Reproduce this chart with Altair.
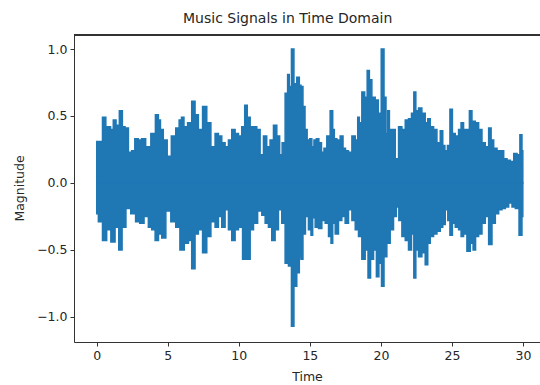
import altair as alt
import pandas as pd

# Upper envelope of the waveform (time in s, magnitude)
upper_t = [0.00, 0.23, 0.58, 0.70, 0.89, 1.06, 1.27, 1.45, 1.73, 1.88, 2.11, 2.35, 2.56, 2.80, 3.05, 3.26,
           3.63, 3.99, 4.27, 4.41, 4.56, 4.81, 5.11, 5.39, 5.73, 5.87, 6.06, 6.22, 6.57, 6.80, 7.04, 7.27,
           7.63, 7.86, 8.21, 8.45, 8.68, 8.92, 9.15, 9.39, 9.62, 9.86, 10.09, 10.32, 10.51, 10.68, 10.92,
           11.15, 11.38, 11.62, 11.85, 12.08, 12.32, 12.56, 12.79, 12.96, 13.14, 13.38, 13.49, 13.61, 13.80,
           13.96, 14.20, 14.32, 14.43, 14.60, 14.72, 14.90, 15.07, 15.21, 15.37, 15.54, 15.73, 15.91, 16.08,
           16.31, 16.55, 16.67, 16.78, 17.02, 17.25, 17.42, 17.60, 17.84, 18.08, 18.31, 18.43, 18.54, 18.78,
           18.94, 19.13, 19.25, 19.48, 19.72, 19.91, 20.14, 20.30, 20.42, 20.54, 20.66, 20.89, 21.13, 21.36,
           21.60, 21.83, 22.06, 22.25, 22.39, 22.53, 22.77, 23.00, 23.24, 23.36, 23.59, 23.83, 24.06, 24.30,
           24.41, 24.60, 24.77, 24.95, 25.12, 25.35, 25.59, 25.70, 25.94, 26.17, 26.29, 26.53, 26.76, 27.00,
           27.23, 27.47, 27.70, 27.82, 28.06, 28.29, 28.53, 28.76, 29.00, 29.23, 29.47, 29.70, 29.87, 29.99]
upper_v = [0.31, 0.31, 0.49, 0.42, 0.42, 0.40, 0.47, 0.43, 0.54, 0.42, 0.41, 0.23, 0.24, 0.33, 0.32, 0.33,
           0.27, 0.37, 0.51, 0.47, 0.40, 0.32, 0.20, 0.35, 0.41, 0.47, 0.49, 0.42, 0.45, 0.61, 0.51, 0.40,
           0.57, 0.45, 0.27, 0.37, 0.35, 0.30, 0.27, 0.32, 0.40, 0.37, 0.35, 0.42, 0.58, 0.49, 0.42,
           0.42, 0.40, 0.21, 0.35, 0.27, 0.32, 0.43, 0.35, 0.21, 0.30, 0.67, 0.81, 0.72, 1.00,
           0.74, 0.79, 0.73, 0.72, 0.57, 0.40, 0.32, 0.33, 0.27, 0.32, 0.33, 0.30, 0.23, 0.26,
           0.35, 0.54, 0.40, 0.33, 0.32, 0.35, 0.26, 0.24, 0.23, 0.35, 0.32, 0.49, 0.45, 0.68,
           0.64, 0.84, 0.77, 0.64, 0.62, 0.52, 1.00, 0.64, 0.37, 0.54, 0.40, 0.40, 0.18, 0.42,
           0.40, 0.47, 0.48, 0.52, 0.68, 0.54, 0.56, 0.52, 0.45, 0.48, 0.42, 0.40, 0.30, 0.39,
           0.28, 0.24, 0.28, 0.55, 0.37, 0.35, 0.40, 0.45, 0.40, 0.40, 0.54, 0.46, 0.45, 0.40,
           0.30, 0.27, 0.41, 0.32, 0.26, 0.24, 0.24, 0.18, 0.17, 0.16, 0.22, 0.21, 0.36, 0.24]

# Lower envelope of the waveform
lower_t = [0.00, 0.23, 0.58, 0.82, 1.17, 1.41, 1.69, 1.88, 2.23, 2.56, 2.91, 3.14, 3.52, 3.75, 3.99, 4.23,
           4.46, 4.69, 5.04, 5.39, 5.73, 5.98, 6.34, 6.57, 6.80, 7.04, 7.27, 7.63, 7.86, 8.21, 8.45, 8.68,
           8.92, 9.15, 9.39, 9.62, 9.86, 10.09, 10.44, 10.68, 10.92, 11.15, 11.50, 11.74, 11.97, 12.20,
           12.44, 12.67, 12.91, 13.14, 13.38, 13.61, 13.80, 13.96, 14.20, 14.32, 14.43, 14.60, 14.78, 15.02,
           15.14, 15.26, 15.49, 15.73, 15.96, 16.20, 16.43, 16.55, 16.67, 16.90, 17.13, 17.37, 17.60, 17.84,
           18.08, 18.31, 18.54, 18.78, 19.01, 19.18, 19.37, 19.60, 19.77, 19.95, 20.14, 20.30, 20.54, 20.77,
           21.01, 21.17, 21.36, 21.60, 21.83, 22.06, 22.25, 22.39, 22.53, 22.77, 23.00, 23.24, 23.36, 23.59,
           23.83, 24.06, 24.30, 24.41, 24.65, 24.77, 24.95, 25.12, 25.35, 25.59, 25.70, 25.94, 26.17, 26.41,
           26.57, 26.76, 27.00, 27.23, 27.47, 27.70, 27.94, 28.17, 28.41, 28.64, 28.88, 29.11, 29.35, 29.58,
           29.87, 29.99]
lower_v = [-0.23, -0.29, -0.43, -0.35, -0.44, -0.33, -0.50, -0.33, -0.19, -0.23, -0.29, -0.30, -0.25, -0.33, -0.35, -0.43,
           -0.38, -0.41, -0.21, -0.29, -0.33, -0.50, -0.45, -0.43, -0.64, -0.38, -0.35, -0.52, -0.40, -0.29, -0.33, -0.25,
           -0.33, -0.20, -0.35, -0.43, -0.35, -0.33, -0.57, -0.57, -0.35, -0.30, -0.21, -0.24, -0.30, -0.33,
           -0.43, -0.35, -0.20, -0.30, -0.60, -0.62, -1.07, -0.77, -0.67, -0.55, -0.57, -0.38, -0.25, -0.35,
           -0.39, -0.26, -0.33, -0.34, -0.28, -0.30, -0.40, -0.45, -0.30, -0.38, -0.28, -0.25, -0.30, -0.20,
           -0.28, -0.35, -0.40, -0.57, -0.50, -0.71, -0.57, -0.50, -0.70, -0.60, -0.77, -0.55, -0.45, -0.35,
           -0.25, -0.18, -0.28, -0.40, -0.43, -0.50, -0.38, -0.71, -0.50, -0.55, -0.52, -0.61, -0.45, -0.40,
           -0.38, -0.36, -0.33, -0.31, -0.20, -0.28, -0.39, -0.30, -0.33, -0.35, -0.40, -0.38, -0.51, -0.45,
           -0.50, -0.40, -0.38, -0.30, -0.25, -0.46, -0.30, -0.23, -0.20, -0.19, -0.18, -0.15, -0.18, -0.19,
           -0.39, -0.25]

x_ticks = [0, 5, 10, 15, 20, 25, 30]
y_ticks = [-1.0, -0.5, 0.0, 0.5, 1.0]

up = pd.DataFrame({"t": upper_t, "v": upper_v, "z": 0.0})
lo = pd.DataFrame({"t": lower_t, "v": lower_v, "z": 0.0})

FONT = "DejaVu Sans"
COLOR = "#1f77b4"
TXT = "#262626"
SPINE = "#333333"

xscale = alt.Scale(domain=[-1.6, 31.2], nice=False, zero=False)
yscale = alt.Scale(domain=[-1.187, 1.112], nice=False, zero=False)

xaxis = alt.Axis(values=x_ticks, title="Time", grid=False, domainColor=SPINE, tickColor=SPINE,
                 tickSize=4, labelFontSize=12.5, titleFontSize=12.5, labelFont=FONT, titleFont=FONT,
                 labelColor=TXT, titleColor=TXT, titleFontWeight="normal", labelPadding=3,
                 titlePadding=9, format="d", labelFlush=False)
yaxis = alt.Axis(values=y_ticks, title="Magnitude", grid=False, domainColor=SPINE, tickColor=SPINE,
                 tickSize=4, labelFontSize=12.5, titleFontSize=12.5, labelFont=FONT, titleFont=FONT,
                 labelColor=TXT, titleColor=TXT, titleFontWeight="normal", labelPadding=3,
                 titlePadding=10, format=".1f", labelFlush=False)

upper_area = alt.Chart(up).mark_area(color=COLOR, stroke=COLOR, strokeWidth=1.5, opacity=1,
                                     interpolate="step").encode(
    x=alt.X("t:Q", scale=xscale, axis=xaxis),
    y=alt.Y("v:Q", scale=yscale, axis=yaxis),
    y2="z:Q",
)
lower_area = alt.Chart(lo).mark_area(color=COLOR, stroke=COLOR, strokeWidth=1.5, opacity=1,
                                     interpolate="step").encode(
    x=alt.X("t:Q", scale=xscale),
    y=alt.Y("v:Q", scale=yscale),
    y2="z:Q",
)
top_spine = alt.Chart(up).mark_rule(color=SPINE, strokeWidth=1).encode(
    x=alt.value(0), x2=alt.value(470), y=alt.value(1)
)

chart = alt.layer(upper_area, lower_area, top_spine).properties(
    width=466, height=308,
    padding={"left": 74, "top": 34, "right": 0, "bottom": 43},
    autosize=alt.AutoSizeParams(type="none"),
    title=alt.TitleParams("Music Signals in Time Domain", font=FONT, fontSize=14, fontWeight="normal",
                          color=TXT, anchor="start", frame="group", dx=109, offset=8),
).configure_view(stroke=None).configure(background="white")

chart.save("out.html", embed_options={"renderer": "svg", "actions": False})
